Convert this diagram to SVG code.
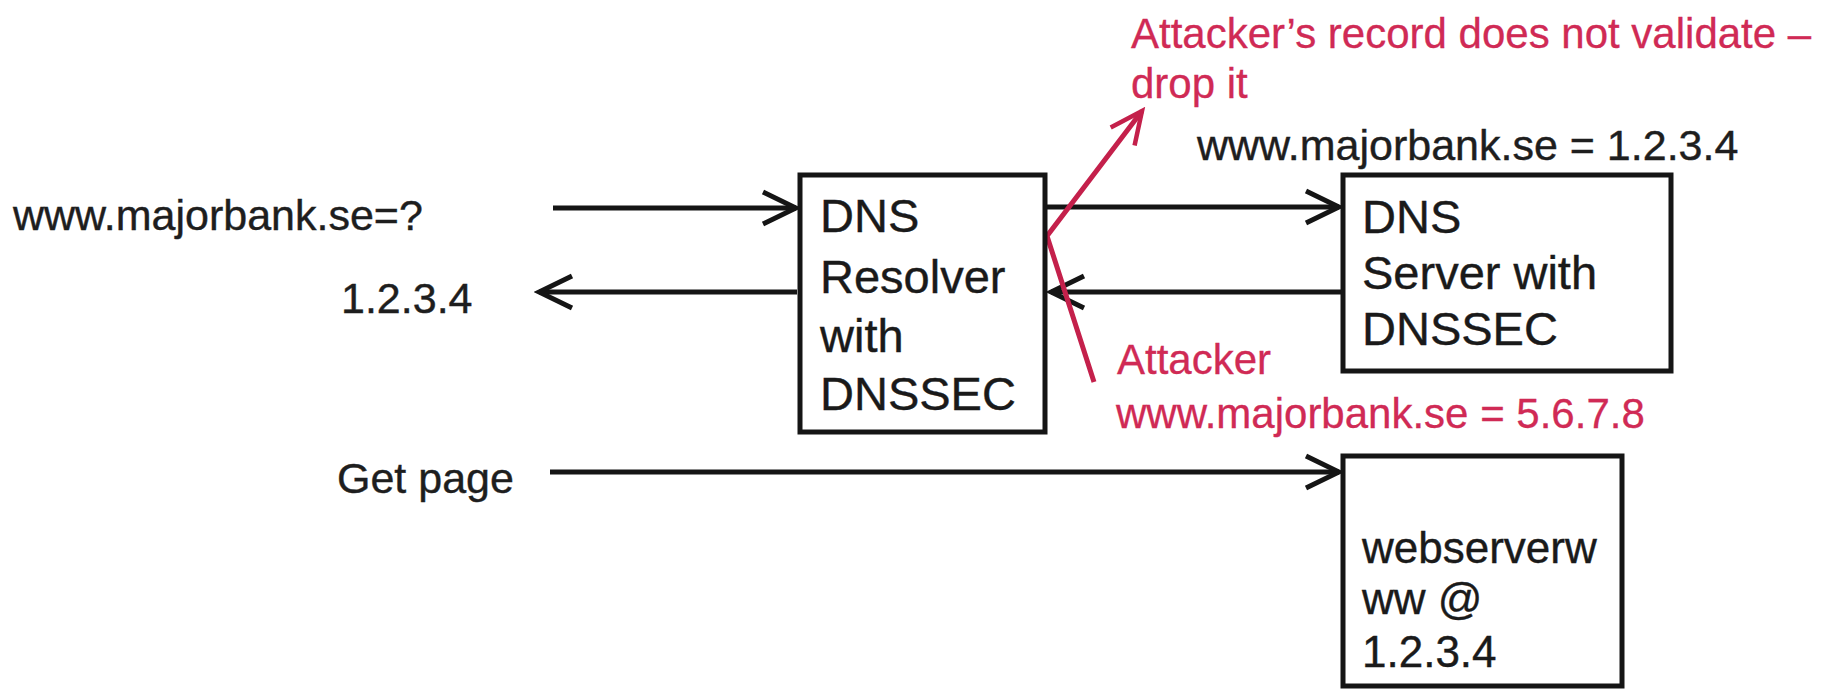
<svg xmlns="http://www.w3.org/2000/svg" width="1845" height="693" viewBox="0 0 1845 693">
  <style>
    .bg { fill: #ffffff; }
    .box { fill: #ffffff; stroke: #151515; stroke-width: 5; }
    .lbl { font-family: "Liberation Sans", Arial, sans-serif; font-size: 43px; fill: #1e1e1e; stroke: #1e1e1e; stroke-width: 0.4; }
    .node { font-family: "Liberation Sans", Arial, sans-serif; font-size: 47px; fill: #1a1a1a; stroke: #1a1a1a; stroke-width: 0.4; }
    .web { font-family: "Liberation Sans", Arial, sans-serif; font-size: 44px; fill: #1a1a1a; stroke: #1a1a1a; stroke-width: 0.4; }
    .red { font-family: "Liberation Sans", Arial, sans-serif; font-size: 42px; fill: #d02a55; stroke: #d02a55; stroke-width: 0.3; }
    .conn { fill: none; stroke: #151515; stroke-width: 5; }
    .rconn { fill: none; stroke: #c4204b; stroke-width: 5; }
  </style>
  <defs>
    <marker id="ah" markerUnits="userSpaceOnUse" viewBox="-45 -25 50 50" markerWidth="50" markerHeight="50" refX="0" refY="0" orient="auto">
      <path d="M-33,-16 L0,0 L-33,16" fill="none" stroke="#151515" stroke-width="5"/>
    </marker>
    <marker id="rah" markerUnits="userSpaceOnUse" viewBox="-45 -25 50 50" markerWidth="50" markerHeight="50" refX="0" refY="0" orient="auto">
      <path d="M-32,-15 L0,0 L-32,15" fill="none" stroke="#c4204b" stroke-width="4.5"/>
    </marker>
  </defs>
  <rect class="bg" x="0" y="0" width="1845" height="693"/>

  <g id="connectors">
    <line class="conn" x1="553" y1="208" x2="796" y2="208" marker-end="url(#ah)"/>
    <line class="conn" x1="797" y1="292" x2="539" y2="292" marker-end="url(#ah)"/>
    <line class="conn" x1="1047" y1="207" x2="1339" y2="207" marker-end="url(#ah)"/>
    <line class="conn" x1="1341" y1="292" x2="1051" y2="292" marker-end="url(#ah)"/>
    <line class="conn" x1="550" y1="472" x2="1339" y2="472" marker-end="url(#ah)"/>
    <path class="rconn" d="M1094,382 L1047,236 L1142,111" marker-end="url(#rah)"/>
  </g>

  <g id="query-label">
    <text class="lbl" x="13" y="230">www.majorbank.se=?</text>
  </g>
  <g id="answer-label">
    <text class="lbl" x="341" y="313">1.2.3.4</text>
  </g>
  <g id="getpage-label">
    <text class="lbl" x="337" y="493">Get page</text>
  </g>

  <g id="resolver">
    <rect class="box" x="800" y="175" width="245" height="257"/>
    <text class="node" x="820" y="232">DNS</text>
    <text class="node" x="820" y="293">Resolver</text>
    <text class="node" x="820" y="352">with</text>
    <text class="node" x="820" y="410">DNSSEC</text>
  </g>

  <g id="dns-server">
    <text class="lbl" x="1197" y="160">www.majorbank.se = 1.2.3.4</text>
    <rect class="box" x="1343" y="175" width="328" height="196"/>
    <text class="node" x="1362" y="233">DNS</text>
    <text class="node" x="1362" y="289">Server with</text>
    <text class="node" x="1362" y="345">DNSSEC</text>
  </g>

  <g id="webserver">
    <rect class="box" x="1343" y="456" width="279" height="230"/>
    <text class="web" x="1362" y="563">webserverw</text>
    <text class="web" x="1362" y="614">ww @</text>
    <text class="web" x="1362" y="667">1.2.3.4</text>
  </g>

  <g id="drop-note">
    <text class="red" x="1131" y="48">Attacker’s record does not validate –</text>
    <text class="red" x="1131" y="98">drop it</text>
  </g>

  <g id="attacker">
    <text class="red" x="1117" y="374">Attacker</text>
    <text class="red" x="1116" y="428">www.majorbank.se = 5.6.7.8</text>
  </g>
</svg>
